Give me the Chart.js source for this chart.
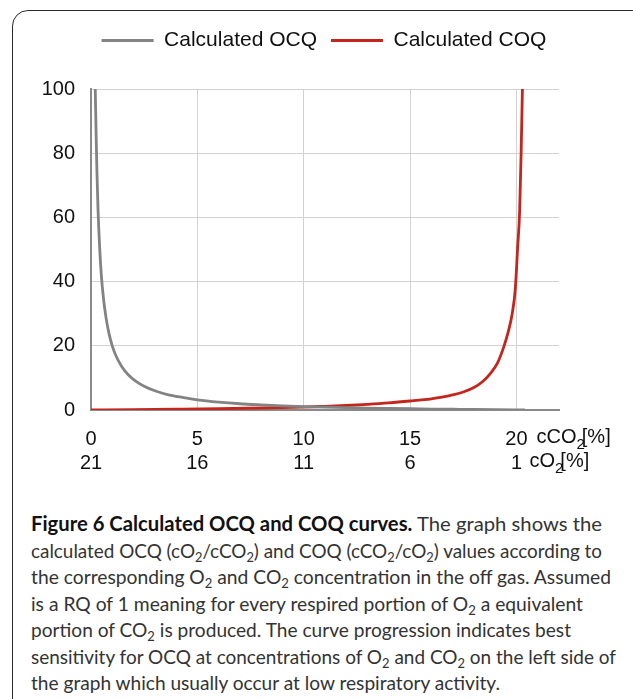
<!DOCTYPE html>
<html>
<head>
<meta charset="utf-8">
<script src="https://cdn.jsdelivr.net/npm/chart.js@4/dist/chart.umd.min.js"></script>
<style>
  html, body { margin: 0; padding: 0; background: #fff; width: 633px; height: 699px; overflow: hidden; }
  #frame {
    position: absolute; left: 12px; top: 10px; width: 700px; height: 800px;
    border: 1.5px solid #2a2a2a; border-top-left-radius: 16px; box-sizing: border-box;
  }
  #chartWrap { position: absolute; left: 0; top: 0; width: 633px; height: 480px; }
  #caption {
    position: absolute; left: 31px; top: 510px;
    font-family: Lato, "Open Sans", sans-serif; font-size: 20px; line-height: 26.5px; color: #333;
  }
  #caption .ln { white-space: nowrap; transform-origin: 0 50%; width: max-content; }
  #caption b { color: #111; }
  #caption .s { font-size: 0.68em; position: relative; top: 0.3em; line-height: 0; }
</style>
</head>
<body>
<div id="frame"></div>
<div id="chartWrap"><canvas id="c" width="633" height="480"></canvas></div>
<div id="caption">
  <div class="ln" data-w="571"><b>Figure 6 Calculated OCQ and COQ curves.</b> The graph shows the</div>
  <div class="ln" data-w="571">calculated OCQ (cO<span class="s">2</span>/cCO<span class="s">2</span>) and COQ (cCO<span class="s">2</span>/cO<span class="s">2</span>) values according to</div>
  <div class="ln" data-w="580">the corresponding O<span class="s">2</span> and CO<span class="s">2</span> concentration in the off gas. Assumed</div>
  <div class="ln" data-w="552">is a RQ of 1 meaning for every respired portion of O<span class="s">2</span> a equivalent</div>
  <div class="ln" data-w="540">portion of CO<span class="s">2</span> is produced. The curve progression indicates best</div>
  <div class="ln" data-w="585">sensitivity for OCQ at concentrations of O<span class="s">2</span> and CO<span class="s">2</span> on the left side of</div>
  <div class="ln" data-w="469">the graph which usually occur at low respiratory activity.</div>
</div>
<script>
// Calculated OCQ (cO2/cCO2) against cCO2 [%]
const ocqX = [0.2, 0.24, 0.28, 0.33, 0.4, 0.48, 0.58, 0.7, 0.85, 1.0, 1.2, 1.45, 1.75, 2.1, 2.5, 3.0, 3.6, 4.3, 5.0, 6.0, 7.0, 8.0, 9.0, 10.0, 11.0, 12.0, 13.0, 14.0, 15.0, 16.0, 17.0, 18.0, 19.0, 20.0, 20.4];
const ocqY = [100, 86, 74, 62.5, 51.5, 42.5, 35.2, 29, 23.7, 20, 16.5, 13.5, 11, 9, 7.4, 6.0, 4.8, 3.9, 3.15, 2.45, 1.95, 1.6, 1.3, 1.08, 0.9, 0.74, 0.6, 0.49, 0.39, 0.3, 0.23, 0.16, 0.1, 0.05, 0.03];

// Calculated COQ (cCO2/cO2) against cCO2 [%]
const coqX = [0, 2, 4, 6, 8, 10, 11, 12, 13, 14, 15, 16, 16.5, 17, 17.5, 18, 18.4, 18.8, 19.1, 19.4, 19.6, 19.8, 19.95, 20.05, 20.15, 20.22, 20.28];
const coqY = [0, 0.1, 0.24, 0.4, 0.62, 0.92, 1.15, 1.4, 1.75, 2.2, 2.8, 3.5, 4.0, 4.7, 5.6, 7.0, 8.8, 11.6, 14.5, 19.6, 24, 30, 38, 50, 62, 80, 100];

// Axis tick rows: cCO2 on the first line, matching cO2 on the second
const tickCO2 = [0, 5, 10, 15, 20];
const tickO2 = [21, 16, 11, 6, 1];
const yTicks = [0, 20, 40, 60, 80, 100];

const seriesNames = ['Calculated OCQ', 'Calculated COQ'];
const seriesColors = ['#838383', '#c4261d'];

const FONT = '"Liberation Sans", Arial, Helvetica, sans-serif';

const pts = (xs, ys) => xs.map((x, i) => ({ x, y: ys[i] }));

// Units after the last tick label of each row (with subscript 2)
const unitLabels = {
  id: 'unitLabels',
  afterDraw(chart) {
    const xs = chart.scales.x;
    const ctx = chart.ctx;
    const px = xs.getPixelForValue(tickCO2[tickCO2.length - 1]);
    const rows = [
      { x: px + 20, y: xs.top + 27, parts: ['cCO', '2', '[%]'] },
      { x: px + 13, y: xs.top + 51, parts: ['cO', '2', '[%]'] }
    ];
    ctx.save();
    ctx.fillStyle = '#111';
    ctx.textBaseline = 'middle';
    ctx.textAlign = 'left';
    rows.forEach(r => {
      let x = r.x;
      ctx.font = '20px ' + FONT;
      ctx.fillText(r.parts[0], x, r.y);
      x += ctx.measureText(r.parts[0]).width;
      ctx.font = '15px ' + FONT;
      ctx.fillText(r.parts[1], x, r.y + 8);
      x += ctx.measureText(r.parts[1]).width - 3;
      ctx.font = '20px ' + FONT;
      ctx.fillText(r.parts[2], x, r.y);
    });
    ctx.restore();
  }
};

// Fixed legend band height above the plot
const legendBand = {
  id: 'legendBand',
  beforeInit(chart) {
    const fit = chart.legend.fit;
    chart.legend.fit = function () {
      fit.bind(chart.legend)();
      this.height = 73;
    };
  }
};

new Chart(document.getElementById('c'), {
  type: 'line',
  data: {
    datasets: [
      { label: seriesNames[0], data: pts(ocqX, ocqY), borderColor: seriesColors[0], backgroundColor: seriesColors[0],
        borderWidth: 2.8, pointRadius: 0, cubicInterpolationMode: 'monotone', fill: false },
      { label: seriesNames[1], data: pts(coqX, coqY), borderColor: seriesColors[1], backgroundColor: seriesColors[1],
        borderWidth: 2.8, pointRadius: 0, cubicInterpolationMode: 'monotone', fill: false }
    ]
  },
  options: {
    responsive: false,
    animation: false,
    events: [],
    layout: { padding: { left: 15, right: 0, top: 16, bottom: 0 } },
    plugins: {
      tooltip: { enabled: false },
      legend: {
        position: 'top',
        labels: {
          font: { size: 21, family: FONT },
          color: '#111',
          boxWidth: 52,
          boxHeight: 3,
          padding: 14,
          generateLabels(chart) {
            return chart.data.datasets.map((d, i) => ({
              text: d.label, fillStyle: d.borderColor, strokeStyle: d.borderColor,
              lineWidth: 0, datasetIndex: i, hidden: false, fontColor: '#111'
            }));
          }
        }
      }
    },
    scales: {
      x: {
        type: 'linear', min: 0, max: 22,
        afterFit(s) { s.height = 70; },
        border: { display: true, color: '#8a8a8a', width: 2 },
        grid: { color: '#d2d2d2', lineWidth: 1, drawTicks: false },
        ticks: {
          stepSize: 5, includeBounds: false, autoSkip: false, maxRotation: 0, padding: 17,
          color: '#111', font: { size: 20, family: FONT, lineHeight: 1.2 },
          callback(v) {
            const i = tickCO2.indexOf(v);
            return i < 0 ? '' : [String(tickCO2[i]), String(tickO2[i])];
          }
        }
      },
      y: {
        min: 0, max: 100,
        afterFit(s) { s.width = 76; },
        border: { display: true, color: '#8a8a8a', width: 2 },
        grid: { color: '#d2d2d2', lineWidth: 1, drawTicks: false },
        ticks: {
          stepSize: 20, padding: 16, color: '#111', font: { size: 20, family: FONT },
          callback(v) { return yTicks.includes(v) ? String(v) : ''; }
        }
      },
      yR: {
        position: 'right', display: true,
        afterFit(s) { s.width = 74; },
        border: { display: false }, grid: { display: false }, ticks: { display: false }
      }
    }
  },
  plugins: [legendBand, unitLabels]
});
</script>
<script>
// fit each caption line to its column width
document.querySelectorAll('#caption .ln').forEach(el => {
  const w = el.getBoundingClientRect().width;
  const t = parseFloat(el.dataset.w);
  if (w > 0) el.style.transform = 'scaleX(' + (t / w).toFixed(4) + ')';
});
</script>
</body>
</html>
